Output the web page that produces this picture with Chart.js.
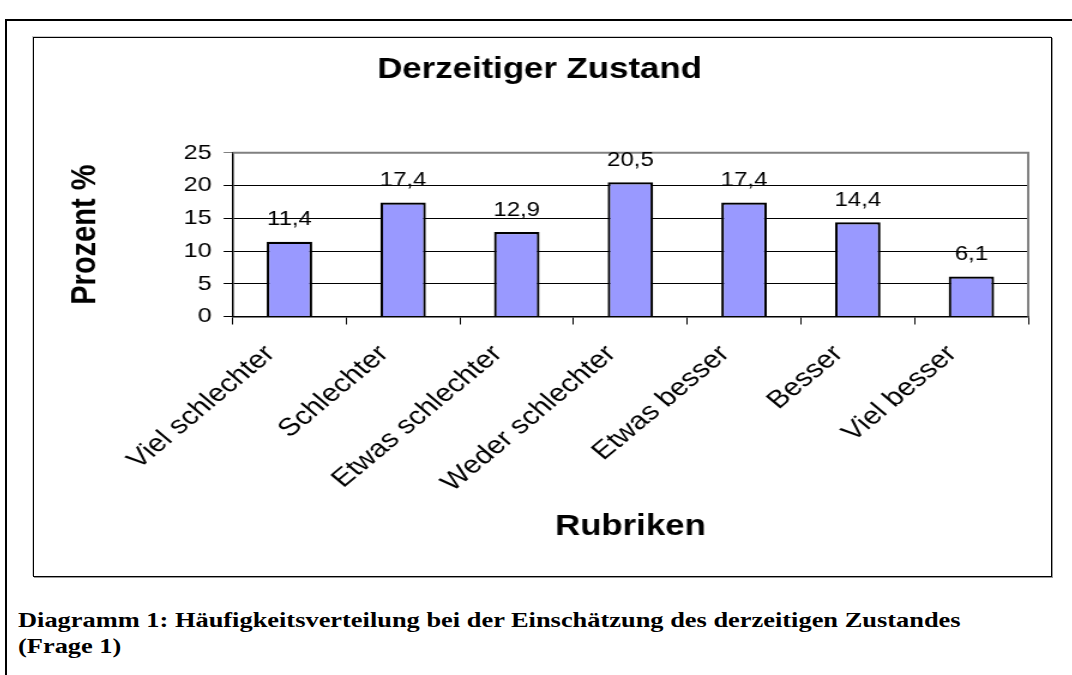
<!DOCTYPE html>
<html>
<head>
<meta charset="utf-8">
<script src="https://cdn.jsdelivr.net/npm/chart.js@4"></script>
<style>
  html, body { margin: 0; padding: 0; background: #fff; }
  body { width: 1072px; height: 675px; position: relative; overflow: hidden; }
  .outer { position: absolute; left: 5px; top: 19px; width: 1100px; height: 700px;
           border-left: 2px solid #000; border-top: 2px solid #000; }
  .chart-box { position: absolute; left: 33px; top: 37px; width: 1017px; height: 538px;
               border: 1px solid #000; box-shadow: 1px 1px 0 #999, -1px -1px 0 #ccc; overflow: hidden; }
  /* the original chart was pasted horizontally stretched, so stretch it the same way */
  .chart-box canvas { display: block; transform: scaleX(1.1993); transform-origin: 0 0; }
  .caption { position: absolute; left: 18px; top: 607px; white-space: nowrap;
             font-family: "Liberation Serif", "Times New Roman", serif;
             font-weight: bold; font-size: 22px; line-height: 26px; color: #000;
             transform: scaleX(1.2); transform-origin: 0 0; }
</style>
</head>
<body>
<div class="outer"></div>
<div class="chart-box"><canvas id="zustandChart" width="848" height="538"></canvas></div>
<div class="caption">Diagramm 1: Häufigkeitsverteilung bei der Einschätzung des derzeitigen Zustandes<br>(Frage 1)</div>

<script>
const categories = ['Viel schlechter', 'Schlechter', 'Etwas schlechter', 'Weder schlechter', 'Etwas besser', 'Besser', 'Viel besser'];
const percentValues = [11.4, 17.4, 12.9, 20.5, 17.4, 14.4, 6.1];
const yTicks = [0, 5, 10, 15, 20, 25];

const FONT = 'Arial, "Liberation Sans", sans-serif';

// value labels above each bar, German decimal comma
const valueLabels = {
    id: 'valueLabels',
    afterDatasetsDraw(chart) {
        const ctx = chart.ctx;
        const meta = chart.getDatasetMeta(0);
        ctx.save();
        ctx.font = '20px ' + FONT;
        ctx.fillStyle = '#000';
        ctx.textAlign = 'center';
        ctx.textBaseline = 'middle';
        meta.data.forEach((bar, i) => {
            const txt = percentValues[i].toFixed(1).replace('.', ',');
            ctx.fillText(txt, bar.x, bar.y - 22);
        });
        ctx.restore();
    }
};

// grey plot-area frame on top and right like Excel
const plotFrame = {
    id: 'plotFrame',
    beforeDatasetsDraw(chart) {
        const { ctx, chartArea: a } = chart;
        ctx.save();
        ctx.strokeStyle = '#808080';
        ctx.lineWidth = 2;
        ctx.beginPath();
        ctx.moveTo(a.left, a.top);
        ctx.lineTo(a.right, a.top);
        ctx.lineTo(a.right, a.bottom);
        ctx.stroke();
        ctx.restore();
    }
};

new Chart(document.getElementById('zustandChart'), {
    type: 'bar',
    data: {
        labels: categories,
        datasets: [{
            data: percentValues,
            backgroundColor: '#9999FF',
            borderColor: '#000',
            borderWidth: 2.2,
            categoryPercentage: 1,
            barPercentage: 0.4
        }]
    },
    options: {
        responsive: false,
        animation: false,
        layout: { padding: { left: 14, right: 19, top: 0, bottom: 0 } },
        plugins: {
            legend: { display: false },
            tooltip: { enabled: false },
            title: {
                display: true,
                text: 'Derzeitiger Zustand',
                color: '#000',
                font: { family: FONT, size: 29, weight: 'bold' },
                padding: { top: 15, bottom: 65 }
            }
        },
        scales: {
            x: {
                grid: { drawOnChartArea: false, color: '#000', tickLength: 8, offset: true },
                border: { color: '#000', width: 1.5 },
                ticks: {
                    color: '#000', font: { family: FONT, size: 25 },
                    maxRotation: 45, minRotation: 45, padding: 15, labelOffset: -16
                },
                title: {
                    display: true,
                    text: 'Rubriken',
                    color: '#000',
                    font: { family: FONT, size: 29, weight: 'bold' },
                    padding: { top: 0, bottom: 32 }
                },
                afterFit(scale) { scale.height = 259.5; }
            },
            y: {
                min: 0,
                max: 25,
                afterBuildTicks(scale) { scale.ticks = yTicks.map(v => ({ value: v })); },
                grid: {
                    color: c => (c.tick && c.tick.value === 25 ? '#808080' : '#000'),
                    lineWidth: 1,
                    tickLength: 7.5
                },
                border: { color: '#000', width: 1.5 },
                ticks: { color: '#000', font: { family: FONT, size: 21 }, padding: 10 },
                title: {
                    display: true,
                    text: 'Prozent %',
                    color: '#000',
                    font: { family: FONT, size: 29, weight: 'bold' },
                    padding: { top: 12, bottom: 0 }
                },
                afterFit(scale) { scale.width = 151.6; }
            }
        }
    },
    plugins: [valueLabels, plotFrame]
});
</script>
</body>
</html>
